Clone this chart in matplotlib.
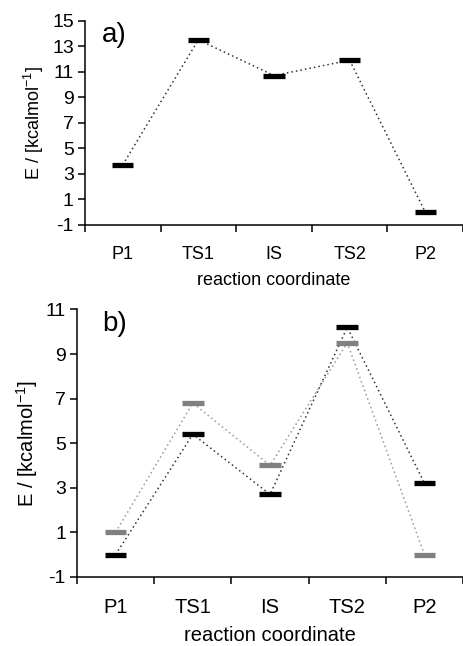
"""
Energy profiles along the reaction coordinate, panels a) and b)
"""
import matplotlib
matplotlib.use("Agg")
import matplotlib.pyplot as plt
import numpy as np

plt.rcParams['font.family'] = ['Liberation Sans', 'DejaVu Sans']
plt.rcParams['axes.unicode_minus'] = False

states = ['P1', 'TS1', 'IS', 'TS2', 'P2']
energy_a = [3.7, 13.5, 10.7, 11.9, 0.0]
energy_b_black = [0.0, 5.4, 2.7, 10.2, 3.2]
energy_b_grey = [1.0, 6.8, 4.0, 9.5, 0.0]

yticks_a = [-1, 1, 3, 5, 7, 9, 11, 13, 15]
yticks_b = [-1, 1, 3, 5, 7, 9, 11]


def draw_profile(axe, values, color, line_color):
    x = np.arange(len(values)) + 0.5
    axe.plot(x, values, linestyle=(0, (1, 2)), color=line_color, lw=1.1, zorder=1)
    axe.hlines(values, x - 0.14, x + 0.14, color=color, lw=3.8, zorder=2)


def style_axe(axe, yticks, label, label_x, size):
    axe.set_xlim(0, 5)
    axe.set_ylim(yticks[0], yticks[-1])
    axe.set_yticks(yticks)
    axe.set_xticks(np.arange(6))
    axe.set_xticklabels([])
    axe.set_xticks(np.arange(5) + 0.5, minor=True)
    axe.set_xticklabels(states, minor=True)
    axe.tick_params(axis='x', which='minor', length=0, pad=15, labelsize=size)
    axe.tick_params(axis='x', which='major', length=5, width=1.1, direction='out')
    axe.tick_params(axis='y', length=5, width=1.1, direction='out', labelsize=14, pad=3)
    for side in ('top', 'right'):
        axe.spines[side].set_visible(False)
    for side in ('left', 'bottom'):
        axe.spines[side].set_linewidth(1.1)
    axe.set_xlabel('reaction coordinate', fontsize=size, labelpad=6.5)
    axe.set_ylabel(r'E / [kcalmol$^{\mathregular{-1}}$]', fontsize=size, labelpad=4)
    axe.text(label_x, 0.995, label, transform=axe.transAxes, fontsize=20,
             va='top', ha='left')


figure = plt.figure(figsize=(4.64, 6.46), dpi=100)
axe_a = figure.add_axes([0.183, 0.652, 0.815, 0.316])
axe_b = figure.add_axes([0.166, 0.107, 0.832, 0.414])

draw_profile(axe_a, energy_a, 'black', '#333333')
style_axe(axe_a, yticks_a, 'a)', 0.045, 13)

draw_profile(axe_b, energy_b_grey, '#808080', '#9a9a9a')
draw_profile(axe_b, energy_b_black, 'black', '#333333')
style_axe(axe_b, yticks_b, 'b)', 0.065, 14.5)

figure.savefig('out.png', dpi=100)
